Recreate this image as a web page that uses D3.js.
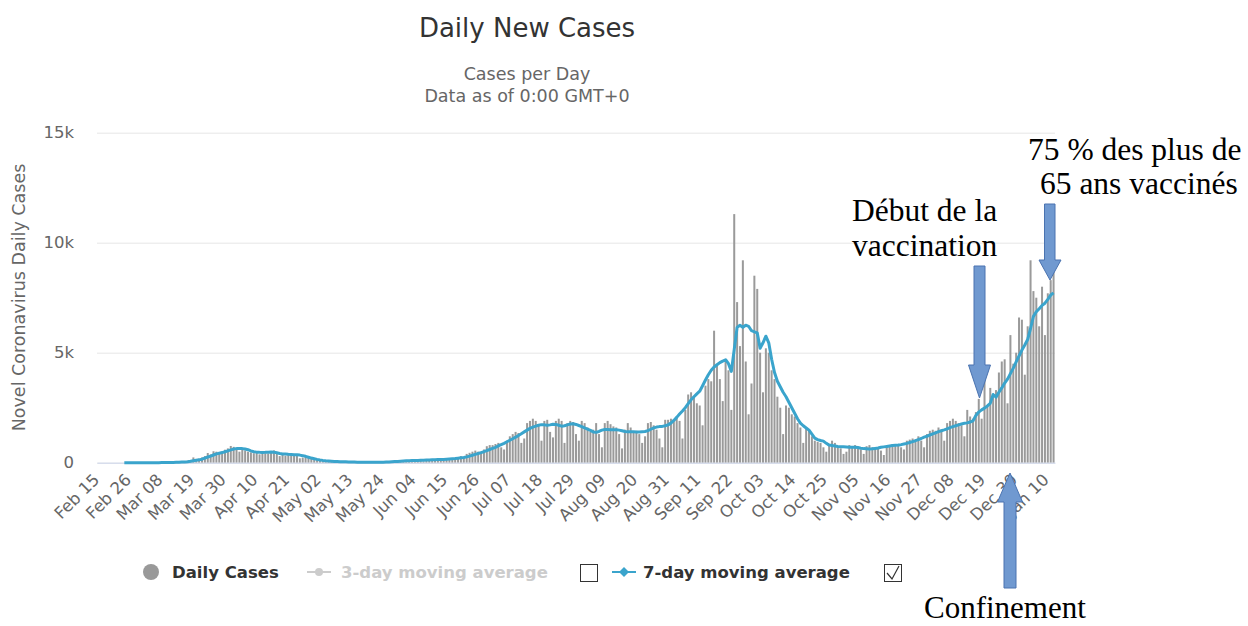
<!DOCTYPE html>
<html><head><meta charset="utf-8">
<script src="https://cdn.jsdelivr.net/npm/d3@7"></script>
<style>body{margin:0;background:#fff}svg{display:block}</style>
</head><body><svg id="chart" width="1248" height="626"></svg>
<script>
// ---------------- DATA ----------------
const startDate = "2020-02-15";
const dailyFeb = [0,0,0,0,0,0,1,0,0,0,0,0,1,0,0];
const dailyMar = [3,2,3,3,2,5,4,8,11,14, 22,20,31,50,58,50,90,110,240,170, 180,240,300,440,380,520,500,430,440,590, 650];
const dailyApr = [760,720,600,500,580,560,500,470,430,520, 380,450,430,420,480,560,480,300,380,320, 420,360,330,370,200,230,260,240,250,170];
const dailyMay = [150,120,90,70,100,80,60,40,30,45, 35,40,30,25,15,20,25,20,15,10, 25,20,15,12,18,30,40,60,70,80, 100];
const dailyJun = [110,90,80,120,130,100,60,150,140,130, 150,160,110,90,170,180,200,220,250,300, 250,400,450,500,550,500,400,600,750,800];
const dailyJul = [800,850,900,700,600,1000,1200, 1300,1400,1350,900,1100,1800,1900, 2000,1900,1700,1000,1900,1950,1400, 1150,1900,2000,1900,900,1800,1900, 1850,1300,1000];
const dailyAug = [1900,1800,1600,1400,1500,1800,1300, 700,1800,1900,1750,1650,1600,1300, 650,1500,1800,1600,1400,1450,1300, 900,1200,1800,1850,1700,1500,1100, 700,1950,1950];
const dailySep = [2000,1900,2100,1900,1100,2400,3100, 3200,3000,2700,2600,1700,3500,3800, 3700,6000,4400,3800,2800,4700,4200, 2400,11300,7300,5300,9200,4600,2200, 3600,8500];
const dailyOct = [7900,5000,3200,5200,5000,4200,3800, 3000,2500,1300,2600,2500,2200,2100, 1800,1600,900,1600,1500,1200,1000, 950,900,700,500,800,1000,900, 750,650,400];
const dailyNov = [500,800,750,800,700,600,400, 750,800,700,650,700,550,350, 750,800,850,800,850,700,600, 1000,1050,1100,1050,1200,1000,700, 1300,1450];
const dailyDec = [1500,1450,1600,1500,1000,1800,1900, 2000,1900,1800,1700,1200,2400,2100, 2000,2300,2900,2000,4000,2600,3400, 3000,3300,4100,4600,4700,2700,5800, 4500,5000,6600];
const dailyJan = [6500,4000,6200,9200,7800,7500,6200,8000,5800,7700,8300,8700];

const maFeb = [null,null,null,null,null,null,null,null,null,0,0,0,0,1,1];
const maMar = [1,1,2,2,3,3,3,4,5,7, 9,12,16,22,29,36,46,62,90,110, 130,160,210,260,300,350,400,430,460,500, 540];
const maApr = [580,620,640,645,640,620,590,540,500,480, 470,465,470,480,490,480,450,420,400,390, 380,375,365,360,345,320,290,250,210,180];
const maMay = [150,125,105,90,78,68,60,54,48,43, 38,34,30,27,25,23,22,21,20,20, 21,22,24,26,30,36,44,52,60,68, 76];
const maJun = [85,90,95,100,105,110,115,120,125,130, 135,140,145,150,160,170,180,190,205,220, 240,265,300,340,380,420,460,500,550,600];
const maJul = [650,700,760,820,880,950,1020,1090,1160,1240, 1320,1400,1480,1560,1620,1660,1700,1730,1720,1700, 1720,1750,1740,1700,1660,1680,1720,1760,1770,1740, 1690];
const maAug = [1640,1580,1530,1470,1400,1380,1420,1480,1510,1510, 1500,1500,1500,1480,1450,1420,1410,1410,1410,1400, 1400,1410,1420,1460,1520,1580,1620,1640,1650,1680, 1720];
const maSep = [1800,1920,2060,2210,2350,2500,2680,2860,3000,3130, 3250,3500,3760,4000,4200,4350,4450,4550,4620,4680, 4500,4150,5150,6150,6250,6150,6250,6200,6000,5950];
const maOct = [5900,5200,5450,5750,5450,4700,4100,3700,3450,3200, 3000,2750,2500,2250,2000,1800,1680,1580,1480,1300, 1120,1050,1010,980,880,800,780,760,740,730, 720];
const maNov = [710,700,700,700,690,660,640,630,620,630, 650,670,700,720,740,760,780,790,800,820, 850,880,920,960,1000,1050,1100,1160,1200,1260];
const maDec = [1310,1360,1410,1450,1490,1540,1590,1640,1680,1720, 1760,1790,1810,1850,1900,2150,2300,2400,2480,2580, 2700,3100,2980,3200,3400,3620,3800,4050,4300,4580, 4850];
const maJan = [5120,5350,5600,6100,6650,6860,7000,7150,7250,7420,7620,7720];

const tickLabels = ["Feb 15","Feb 26","Mar 08","Mar 19","Mar 30","Apr 10","Apr 21","May 02","May 13","May 24","Jun 04","Jun 15","Jun 26","Jul 07","Jul 18","Jul 29","Aug 09","Aug 20","Aug 31","Sep 11","Sep 22","Oct 03","Oct 14","Oct 25","Nov 05","Nov 16","Nov 27","Dec 08","Dec 19","Dec 30","Jan 10"];
const yTicks = [0,5000,10000,15000];

const daily = [].concat(dailyFeb,dailyMar,dailyApr,dailyMay,dailyJun,dailyJul,dailyAug,dailySep,dailyOct,dailyNov,dailyDec,dailyJan);
const ma7 = [].concat(maFeb,maMar,maApr,maMay,maJun,maJul,maAug,maSep,maOct,maNov,maDec,maJan);

// ---------------- CHART ----------------
const svg = d3.select("#chart");
const FONT = "DejaVu Sans, Verdana, sans-serif";
const plotLeft = 97, plotRight = 1055, yBase = 462.7, yTopPx = 132.7;

const fmtDay = d3.timeFormat("%b %d");
const start = d3.timeParse("%Y-%m-%d")(startDate);
const categories = daily.map((_, i) => fmtDay(d3.timeDay.offset(start, i)));

const x = d3.scaleBand().domain(categories).range([plotLeft, plotRight]).padding(0);
const y = d3.scaleLinear().domain([0, 15000]).range([yBase, yTopPx]);
const cx = c => x(c) + x.bandwidth() / 2;

// Title
svg.append("text").attr("x", 527).attr("y", 37).attr("text-anchor", "middle")
  .attr("font-family", FONT).attr("font-size", 26).attr("fill", "#333").text("Daily New Cases");
svg.append("text").attr("x", 527).attr("y", 80).attr("text-anchor", "middle")
  .attr("font-family", FONT).attr("font-size", 17.5).attr("fill", "#666").text("Cases per Day");
svg.append("text").attr("x", 527).attr("y", 102).attr("text-anchor", "middle")
  .attr("font-family", FONT).attr("font-size", 17.5).attr("fill", "#666").text("Data as of 0:00 GMT+0");

// Y axis + grid
const yAxis = svg.append("g").attr("transform", `translate(${plotLeft},0)`)
  .call(d3.axisLeft(y).tickValues(yTicks).tickSize(-(plotRight - plotLeft)).tickPadding(23)
    .tickFormat(d => d === 0 ? "0" : (d / 1000) + "k"));
yAxis.select(".domain").remove();
yAxis.selectAll(".tick line").attr("stroke", "#e6e6e6");
yAxis.selectAll(".tick text").attr("font-family", FONT).attr("font-size", 16.5).attr("fill", "#666");

svg.append("text").attr("transform", "translate(25,297.5) rotate(-90)").attr("text-anchor", "middle")
  .attr("font-family", FONT).attr("font-size", 17.5).attr("fill", "#666").text("Novel Coronavirus Daily Cases");

// Bars
const bw = 2.0;
svg.append("g").selectAll("rect").data(daily).join("rect")
  .attr("x", (d, i) => cx(categories[i]) - bw / 2)
  .attr("y", d => y(d))
  .attr("width", bw)
  .attr("height", d => yBase - y(d))
  .attr("fill", "#9a9a9a");

// X axis
const xAxis = svg.append("g").attr("transform", `translate(0,${yBase})`)
  .call(d3.axisBottom(x).tickValues(tickLabels).tickSize(0));
xAxis.select(".domain").attr("stroke", "#ccd6eb");
xAxis.selectAll(".tick text")
  .attr("font-family", FONT).attr("font-size", 16.5).attr("fill", "#666")
  .attr("text-anchor", "end").attr("x", 2).attr("y", 18).attr("dy", 0)
  .attr("transform", "rotate(-45 2 18)");

// 7-day moving average line
const line = d3.line().defined(d => d != null)
  .x((d, i) => cx(categories[i])).y(d => y(d));
svg.append("path").datum(ma7).attr("d", line)
  .attr("fill", "none").attr("stroke", "#3aa4cc").attr("stroke-width", 3)
  .attr("stroke-linejoin", "round");

// Legend
const lg = svg.append("g").attr("font-family", FONT).attr("font-size", 16.5).attr("font-weight", "bold");
lg.append("circle").attr("cx", 151).attr("cy", 572).attr("r", 8).attr("fill", "#999");
lg.append("text").attr("x", 172).attr("y", 578).attr("fill", "#333").text("Daily Cases");
lg.append("line").attr("x1", 307).attr("x2", 331).attr("y1", 572).attr("y2", 572).attr("stroke", "#ccc").attr("stroke-width", 2);
lg.append("circle").attr("cx", 319).attr("cy", 572).attr("r", 4).attr("fill", "#ccc");
lg.append("text").attr("x", 341).attr("y", 578).attr("fill", "#ccc").text("3-day moving average");
lg.append("rect").attr("x", 580.5).attr("y", 564.5).attr("width", 17).attr("height", 17).attr("fill", "#fff").attr("stroke", "#333").attr("stroke-width", 1);
lg.append("line").attr("x1", 612).attr("x2", 636).attr("y1", 572).attr("y2", 572).attr("stroke", "#3aa4cc").attr("stroke-width", 2);
lg.append("path").attr("d", "M624,567L629,572L624,577L619,572Z").attr("fill", "#3aa4cc");
lg.append("text").attr("x", 643).attr("y", 578).attr("fill", "#333").text("7-day moving average");
lg.append("rect").attr("x", 884.5).attr("y", 564.5).attr("width", 17).attr("height", 17).attr("fill", "#fff").attr("stroke", "#333").attr("stroke-width", 1);
lg.append("path").attr("d", "M887,573L892,579L899,566").attr("fill", "none").attr("stroke", "#333").attr("stroke-width", 1.2);

// Annotations
const SERIF = "Liberation Serif, Times New Roman, serif";
const ann = svg.append("g").attr("font-family", SERIF).attr("font-size", 31.5).attr("fill", "#000");
ann.append("text").attr("x", 852).attr("y", 221).text("Début de la");
ann.append("text").attr("x", 852).attr("y", 256).text("vaccination");
ann.append("text").attr("x", 1028).attr("y", 160).text("75 % des plus de");
ann.append("text").attr("x", 1040).attr("y", 194).text("65 ans vaccinés");
ann.append("text").attr("x", 924).attr("y", 618).attr("font-size", 31).text("Confinement");

const arrowStyle = s => s.attr("fill", "#7099d0").attr("stroke", "#4a73b0").attr("stroke-width", 1);
svg.append("polygon").attr("points", "974,266 985,266 985,365 990.5,365 979.5,398 968.5,365 974,365").call(arrowStyle);
svg.append("polygon").attr("points", "1044.5,204 1055,204 1055,260 1061,260 1050,280 1039,260 1044.5,260").call(arrowStyle);
svg.append("polygon").attr("points", "1010,473 1022.5,502 1016,502 1016,588 1004,588 1004,502 997.5,502").call(arrowStyle);
</script>
</body></html>
